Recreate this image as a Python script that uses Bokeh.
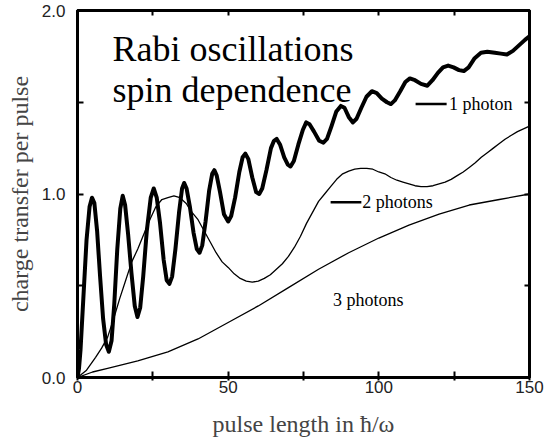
from bokeh.plotting import figure
from bokeh.models import Label, LinearAxis, FixedTicker, Range1d
from bokeh.embed import file_html
from bokeh.resources import INLINE

# ---------------- data ----------------
one_photon_x = [0, 0.5, 1, 2, 3, 4, 4.8, 5.6, 6.5, 7.5, 8.5, 9.5, 10.4, 11.3, 12.2, 13.2, 14.2, 15, 15.8,
                16.8, 17.9, 19, 19.9, 20.8, 21.8, 23, 24.3, 25.3, 26.3, 27.4, 28.6, 29.6, 30.5, 31.4, 32.5,
                33.7, 34.7, 35.4, 36.2, 37.3, 38.5, 39.6, 40.5, 41.4, 42.5, 43.7, 44.7, 45.4, 46.2, 47.3,
                48.6, 50, 51, 52.3, 53.7, 54.8, 55.7, 56.7, 58, 59.3, 60.3, 61.3, 62.7, 64.2, 65.2, 66.1,
                67.2, 68.6, 69.8, 70.7, 71.8, 73.3, 74.8, 75.9, 77, 78.5, 80.2, 81.6, 82.8, 84.3, 85.9,
                87.4, 88.6, 90, 91.4, 92.6, 94.2, 95.9, 97.7, 99.3, 101, 102.7, 104, 105.3, 107.1, 108.8,
                110.3, 112, 114, 116.1, 117.8, 119.6, 121.3, 123, 124.8, 126.6, 128.2, 129.8, 131.8, 133.9,
                136, 138.5, 140.5, 142.5, 144.5, 146.5, 148.5, 150]
one_photon_y = [0.0, 0.05, 0.15, 0.45, 0.75, 0.93, 0.98, 0.95, 0.8, 0.55, 0.32, 0.18, 0.14, 0.2, 0.4, 0.7,
                0.92, 0.99, 0.94, 0.78, 0.57, 0.39, 0.33, 0.38, 0.55, 0.8, 0.98, 1.03, 0.98, 0.84, 0.64,
                0.53, 0.51, 0.55, 0.7, 0.9, 1.03, 1.06, 1.03, 0.93, 0.79, 0.7, 0.68, 0.72, 0.85, 1.02,
                1.11, 1.13, 1.1, 1.01, 0.89, 0.85, 0.88, 0.98, 1.12, 1.2, 1.22, 1.19, 1.09, 1.01, 1.0,
                1.03, 1.13, 1.25, 1.29, 1.30, 1.27, 1.2, 1.16, 1.15, 1.18, 1.27, 1.35, 1.39, 1.38, 1.34,
                1.29, 1.28, 1.3, 1.37, 1.45, 1.48, 1.47, 1.42, 1.39, 1.41, 1.47, 1.53, 1.56, 1.55, 1.52,
                1.5, 1.49, 1.51, 1.56, 1.61, 1.63, 1.62, 1.6, 1.59, 1.62, 1.66, 1.69, 1.70, 1.69, 1.675,
                1.67, 1.69, 1.74, 1.77, 1.775, 1.77, 1.765, 1.76, 1.78, 1.81, 1.84, 1.86]

two_photon_x = [0, 3, 6, 8, 10, 12, 14, 16, 18, 20, 22, 24, 26, 28, 30, 32, 34, 36, 38, 40, 42, 44, 46, 48,
                50, 52, 54, 56, 58, 60, 62, 64, 66, 68, 70, 72, 74, 76, 78, 80, 82, 84, 86, 88, 90, 92, 94,
                96, 98, 100, 102, 104, 106, 108, 110, 112, 114, 116, 118, 120, 122, 124, 126, 128, 130,
                132, 134, 136, 138, 140, 142, 144, 146, 148, 150]
two_photon_y = [0, 0.04, 0.11, 0.16, 0.22, 0.32, 0.43, 0.53, 0.63, 0.70, 0.78, 0.86, 0.93, 0.97, 0.98,
                0.99, 0.98, 0.95, 0.9, 0.86, 0.80, 0.74, 0.68, 0.63, 0.60, 0.565, 0.54, 0.525, 0.52, 0.525,
                0.54, 0.56, 0.59, 0.62, 0.66, 0.71, 0.77, 0.84, 0.90, 0.96, 1.0, 1.04, 1.08, 1.11, 1.125,
                1.135, 1.14, 1.14, 1.135, 1.12, 1.11, 1.09, 1.075, 1.065, 1.055, 1.045, 1.04, 1.04, 1.045,
                1.055, 1.065, 1.08, 1.10, 1.12, 1.145, 1.17, 1.2, 1.225, 1.25, 1.275, 1.30, 1.32, 1.34,
                1.355, 1.37]

three_photon_x = [0, 5, 10, 20, 30, 40, 50, 60, 70, 80, 90, 100, 110, 120, 130, 140, 150]
three_photon_y = [0, 0.03, 0.05, 0.09, 0.14, 0.21, 0.30, 0.39, 0.49, 0.59, 0.68, 0.76, 0.83, 0.89, 0.94,
                  0.97, 1.0]

x_major_ticks = [0, 50, 100, 150]
x_minor_ticks = [25, 75, 125]
x_tick_labels = {0: "0", 50: "50", 100: "100", 150: "150"}
y_major_ticks = [0, 1.0, 2.0]
y_minor_ticks = [0.5, 1.5]
y_tick_labels = {0: "0.0", 1: "1.0", 2: "2.0"}

series_names = ["1 photon", "2 photons", "3 photons"]
key_line_x0 = [112.2, 84.0]
key_line_x1 = [122.5, 94.2]
key_line_y = [1.49, 0.955]
key_text_x = [123.3, 94.5, 84.8]
key_text_y = [1.49, 0.955, 0.42]

title_lines = ["Rabi oscillations", "spin dependence"]

# ---------------- figure ----------------
SERIF = "Liberation Serif"
SANS = "Liberation Sans"

p = figure(width=545, height=442, output_backend="svg", toolbar_location=None,
           x_range=Range1d(0, 150), y_range=Range1d(0, 2.0),
           min_border_left=77, min_border_right=16, min_border_top=10, min_border_bottom=65)
p.grid.visible = False
p.outline_line_color = "black"
p.outline_line_width = 3
p.background_fill_color = "white"
p.border_fill_color = "white"

p.line(three_photon_x, three_photon_y, line_color="black", line_width=1.3)
p.line(two_photon_x, two_photon_y, line_color="black", line_width=1.3)
p.line(one_photon_x, one_photon_y, line_color="black", line_width=4, line_join="round")

p.segment(x0=key_line_x0, y0=key_line_y, x1=key_line_x1, y1=key_line_y,
          line_color="black", line_width=2.5)

for xx, yy, name in zip(key_text_x, key_text_y, series_names):
    p.add_layout(Label(x=xx, y=yy, text=name, text_font=SERIF, text_font_size="18px",
                       text_baseline="middle", text_align="left", text_color="black"))

p.add_layout(Label(x=11.6, y=1.79, text=title_lines[0], text_font=SERIF, text_font_size="36px",
                   text_baseline="alphabetic", text_color="black"))
p.add_layout(Label(x=11.6, y=1.565, text=title_lines[1], text_font=SERIF, text_font_size="36px",
                   text_baseline="alphabetic", text_color="black"))

# axes
xa = p.xaxis[0]
xa.ticker = FixedTicker(ticks=x_major_ticks, minor_ticks=x_minor_ticks)
xa.major_label_overrides = x_tick_labels
xa.major_tick_in = 6
xa.major_tick_out = 3
xa.minor_tick_in = 6
xa.minor_tick_out = 3
xa.major_tick_line_width = 2
xa.minor_tick_line_width = 2
xa.axis_line_width = 3
xa.major_label_standoff = 0
xa.major_label_text_font = SANS
xa.major_label_text_font_size = "17px"
xa.major_label_text_color = "#222222"
xa.axis_label = "pulse length in \u0127/\u03c9"
xa.axis_label_text_font = SERIF
xa.axis_label_text_font_style = "normal"
xa.axis_label_text_font_size = "24px"
xa.axis_label_standoff = 15

ya = p.yaxis[0]
ya.ticker = FixedTicker(ticks=y_major_ticks, minor_ticks=y_minor_ticks)
ya.major_label_overrides = y_tick_labels
ya.major_tick_in = 6
ya.major_tick_out = 0
ya.minor_tick_in = 6
ya.minor_tick_out = 0
ya.major_tick_line_width = 2
ya.minor_tick_line_width = 2
ya.axis_line_width = 3
ya.major_label_standoff = 12
ya.major_label_text_font = SANS
ya.major_label_text_font_size = "17px"
ya.major_label_text_color = "#222222"
ya.axis_label = "charge transfer per pulse"
ya.axis_label_text_font = SERIF
ya.axis_label_text_font_style = "normal"
ya.axis_label_text_font_size = "24px"
ya.axis_label_standoff = 6

for loc in ("right", "above"):
    minor = y_minor_ticks + y_major_ticks if loc == "right" else x_minor_ticks + x_major_ticks
    ax = LinearAxis(ticker=FixedTicker(ticks=[], minor_ticks=minor),
                    minor_tick_in=5, minor_tick_out=0, minor_tick_line_width=2,
                    major_tick_in=0, major_tick_out=0, axis_line_width=3,
                    major_label_standoff=0)
    p.add_layout(ax, loc)

open("out.html", "w").write(file_html(p, INLINE))
